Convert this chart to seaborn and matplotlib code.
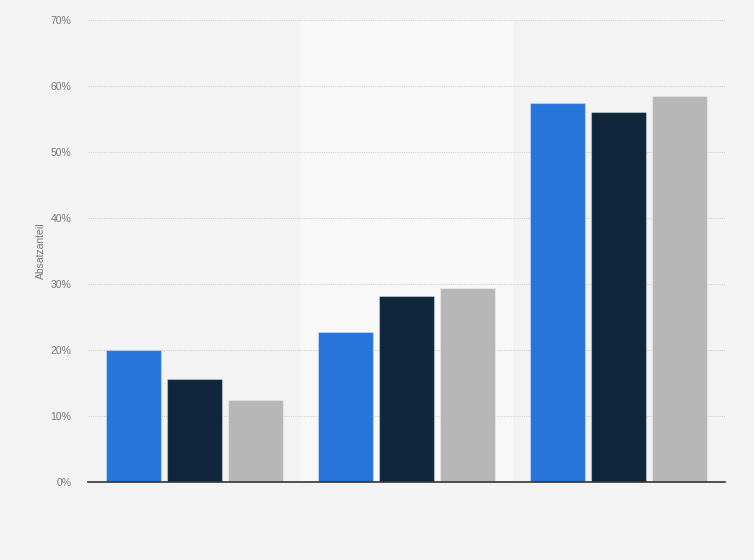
import matplotlib
matplotlib.use("Agg")
import matplotlib.pyplot as plt
import seaborn as sns
import pandas as pd

categories = ["Gruppe 1", "Gruppe 2", "Gruppe 3"]
series_names = ["Serie 1", "Serie 2", "Serie 3"]
serie1 = [20.0, 22.7, 57.4]
serie2 = [15.6, 28.2, 56.1]
serie3 = [12.3, 29.3, 58.4]
y_ticks = [0, 10, 20, 30, 40, 50, 60, 70]
y_label = "Absatzanteil"
colors = ["#2775db", "#10263c", "#b7b7b7"]

rows = []
for name, vals in zip(series_names, [serie1, serie2, serie3]):
    for c, v in zip(categories, vals):
        rows.append({"Kategorie": c, "Serie": name, "Wert": v})
df = pd.DataFrame(rows)

sns.set_theme(style="white")
plt.rcParams['font.family'] = ['Liberation Sans', 'DejaVu Sans']

fig = plt.figure(figsize=(7.54, 5.6), dpi=100, facecolor="#f3f3f3")
ax = fig.add_axes([88/754, 1-481.5/560, (725-88)/754, (481.5-20)/560])
ax.set_facecolor("#f3f3f3")

ax.axvspan(0.5, 1.5, color="#f8f8f8", zorder=0, lw=0)

sns.barplot(data=df, x="Kategorie", y="Wert", hue="Serie", palette=colors,
            order=categories, hue_order=series_names, width=0.862, gap=0.098,
            legend=False, ax=ax, edgecolor=(1, 1, 1, 0.35), linewidth=0.8,
            saturation=1, zorder=3)

ax.set_xlim(-0.5, 2.5)
ax.set_ylim(0, 70)
ax.set_yticks(y_ticks)
ax.set_yticklabels([f"{t}%" for t in y_ticks], color="#777777", fontsize=7.5)
ax.set_xticks([])
ax.set_xlabel("")
ax.set_ylabel(y_label, color="#777777", fontsize=7.5, labelpad=3)
ax.tick_params(axis="y", length=0, pad=12)

for t in y_ticks[1:]:
    ax.axhline(t, color="#d2d2d2", linestyle=(0, (1, 1)), linewidth=0.8, zorder=1)

for s in ["top", "right", "left"]:
    ax.spines[s].set_visible(False)
ax.spines["bottom"].set_color("#333333")
ax.spines["bottom"].set_linewidth(1.2)
ax.spines["bottom"].set_zorder(4)

fig.savefig("out.png", dpi=100, facecolor=fig.get_facecolor())
